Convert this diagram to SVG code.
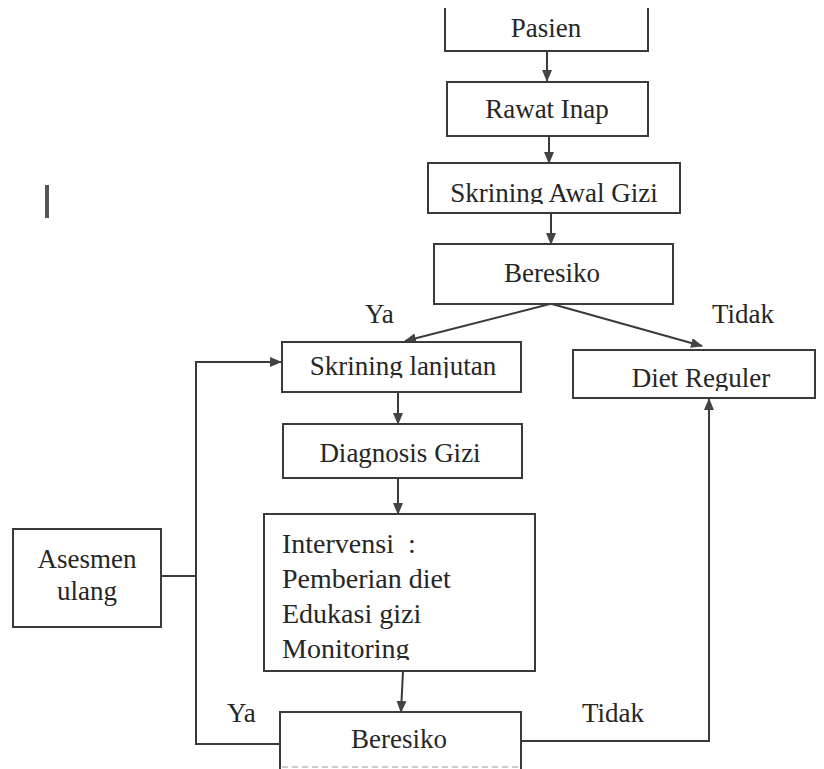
<svg xmlns="http://www.w3.org/2000/svg" width="824" height="769" viewBox="0 0 824 769">
  <defs>
    <marker id="arr" markerUnits="userSpaceOnUse" markerWidth="12" markerHeight="10" refX="11" refY="5" orient="auto">
      <path d="M0,0 L12,5 L0,10 z" fill="#444"/>
    </marker>
    <clipPath id="clipAwal"><rect x="428" y="163" width="252" height="41"/></clipPath>
    <clipPath id="clipLanj"><rect x="282" y="342" width="239" height="36"/></clipPath>
    <clipPath id="clipDiet"><rect x="573" y="350" width="242" height="41"/></clipPath>
    <clipPath id="clipMon"><rect x="264" y="514" width="271" height="146"/></clipPath>
  </defs>
  <style>
    .box { fill: #fff; stroke: #3a3a3a; stroke-width: 2; }
    .ln { fill: none; stroke: #3a3a3a; stroke-width: 2; }
    .t { font-family: "Liberation Serif", "DejaVu Serif", serif; font-size: 27px; fill: #262626; }
    .c { text-anchor: middle; }
    .iv { font-size: 28px; white-space: pre; }
  </style>
  <rect width="824" height="769" fill="#fff"/>

  <rect x="45" y="185" width="4" height="33" fill="#555"/>

  <g id="connectors">
    <line class="ln" x1="547" y1="51" x2="547" y2="81" marker-end="url(#arr)"/>
    <line class="ln" x1="549" y1="136" x2="549" y2="163" marker-end="url(#arr)"/>
    <line class="ln" x1="551" y1="213" x2="551" y2="244" marker-end="url(#arr)"/>
    <line class="ln" x1="550" y1="304" x2="405" y2="341" marker-end="url(#arr)"/>
    <line class="ln" x1="552" y1="304" x2="702" y2="346" marker-end="url(#arr)"/>
    <line class="ln" x1="398" y1="392" x2="398" y2="424" marker-end="url(#arr)"/>
    <line class="ln" x1="398" y1="478" x2="398" y2="514" marker-end="url(#arr)"/>
    <line class="ln" x1="403" y1="671" x2="401" y2="712" marker-end="url(#arr)"/>
    <polyline class="ln" points="280,744 196,744 196,362 281,362" marker-end="url(#arr)"/>
    <line class="ln" x1="161" y1="576" x2="196" y2="576"/>
    <polyline class="ln" points="521,741 709,741 709,399" marker-end="url(#arr)"/>
    <text class="t" x="365" y="323">Ya</text>
    <text class="t" x="712" y="323">Tidak</text>
    <text class="t" x="227" y="722">Ya</text>
    <text class="t" x="582" y="722">Tidak</text>
  </g>

  <g id="pasien">
    <path class="ln" d="M445,8 V51 H648 V8"/>
    <text class="t c" x="546" y="37">Pasien</text>
  </g>
  <g id="rawat-inap">
    <rect class="box" x="447" y="82" width="201" height="54"/>
    <text class="t c" x="547" y="118">Rawat Inap</text>
  </g>
  <g id="skrining-awal">
    <rect class="box" x="428" y="163" width="252" height="50"/>
    <text class="t c" x="554" y="202" clip-path="url(#clipAwal)">Skrining Awal Gizi</text>
  </g>
  <g id="beresiko-1">
    <rect class="box" x="434" y="244" width="239" height="60"/>
    <text class="t c" x="552" y="282">Beresiko</text>
  </g>
  <g id="skrining-lanjutan">
    <rect class="box" x="282" y="342" width="239" height="50"/>
    <text class="t c" x="403" y="375" clip-path="url(#clipLanj)">Skrining lanjutan</text>
  </g>
  <g id="diet-reguler">
    <rect class="box" x="573" y="350" width="242" height="48"/>
    <text class="t c" x="701" y="387" clip-path="url(#clipDiet)">Diet Reguler</text>
  </g>
  <g id="diagnosis-gizi">
    <rect class="box" x="283" y="424" width="239" height="54"/>
    <text class="t c" x="400" y="462">Diagnosis Gizi</text>
  </g>
  <g id="intervensi">
    <rect class="box" x="264" y="514" width="271" height="157"/>
    <g clip-path="url(#clipMon)">
      <text class="t iv" x="282" y="553">Intervensi  :</text>
      <text class="t iv" x="282" y="588">Pemberian diet</text>
      <text class="t iv" x="282" y="623">Edukasi gizi</text>
      <text class="t iv" x="282" y="658">Monitoring</text>
    </g>
  </g>
  <g id="asesmen-ulang">
    <rect class="box" x="13" y="529" width="148" height="98"/>
    <text class="t c" x="87" y="568">Asesmen</text>
    <text class="t c" x="87" y="600">ulang</text>
  </g>
  <g id="beresiko-2">
    <path class="ln" d="M280,769 V712 H521 V769"/>
    <line x1="282" y1="767" x2="519" y2="767" stroke="#bbb" stroke-width="1.5" stroke-dasharray="6 4"/>
    <text class="t c" x="399" y="748">Beresiko</text>
  </g>
</svg>
